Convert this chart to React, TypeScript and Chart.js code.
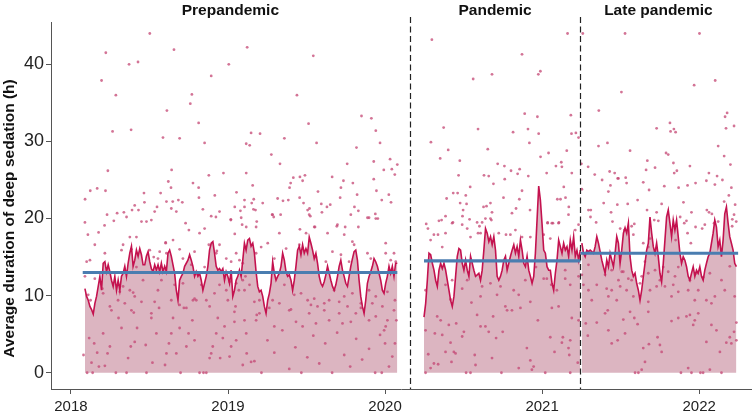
import { useEffect, useRef } from "react";
import { Chart, registerables } from "chart.js";

Chart.register(...registerables);

const FONT = "'Liberation Sans', Arial, Helvetica, sans-serif";

// ---- axes / layout values ----
const axisStartYear = 2017.873;
const axisEndYear = 2022.33;
const yMin = -2.11;
const yMax = 45.49;
const xTickYears = [2018, 2019, 2020, 2021, 2022];
const yTickValues = [0, 10, 20, 30, 40];
const yTitle = "Average duration of deep sedation (h)";

// ---- periods ----
const periodNames = ["Prepandemic", "Pandemic", "Late pandemic"];
const periodBreaks = [2020.157, 2021.244];
const dataEndYear = 2022.237;

const prepandemicSpan = [2018.089, 2020.078];
const pandemicSpan = [2020.248, 2021.243];
const latePandemicSpan = [2021.253, 2022.237];

const periodMeans = [13.0, 14.5, 15.5];
const meanSpans = [
  [2018.075, 2020.078],
  [2020.248, 2021.244],
  [2021.244, 2022.248],
];

// ---- rolling averages (evenly spaced across each span) ----
const prepandemicRolling = [
  10.9, 9.9, 9.4, 8.6, 8.2, 7.6, 9.0, 9.9, 11.2, 12.5,
  10.7, 14.2, 14.4, 13.1, 14.0, 13.1, 12.0, 11.2, 12.5, 10.7,
  12.0, 10.7, 12.5, 12.9, 13.8, 12.5, 14.2, 15.5, 16.4, 13.8,
  14.6, 15.9, 15.1, 16.1, 15.3, 14.0, 14.0, 15.1, 15.7, 14.4,
  13.5, 13.1, 14.0, 13.3, 14.0, 13.1, 14.2, 13.1, 13.8, 13.1,
  15.5, 15.9, 15.1, 14.0, 12.9, 10.7, 9.4, 12.0, 12.5, 12.9,
  13.8, 14.2, 14.6, 15.3, 14.6, 13.8, 12.5, 13.1, 12.5, 12.9,
  12.0, 10.7, 11.6, 12.5, 13.8, 15.9, 16.8, 17.0, 15.5, 13.8,
  13.3, 13.5, 13.1, 13.5, 12.0, 13.1, 12.5, 11.6, 13.3, 9.9,
  10.7, 12.0, 12.5, 13.3, 12.5, 14.6, 16.8,
  15.9, 17.2, 17.4, 16.4, 16.8, 15.5, 13.1, 11.2, 10.5, 10.7,
  9.9, 8.6, 7.7, 9.4, 10.3, 11.6, 14.4, 12.9, 12.0, 12.5,
  12.9, 13.8, 15.5, 14.6, 13.1, 12.5, 12.7, 12.0, 10.7, 12.0,
  13.8, 15.9, 16.4, 15.3, 16.6, 15.5, 16.1, 15.5, 17.6, 16.8,
  15.9, 14.8, 15.5, 14.2, 12.5, 11.6, 11.2, 11.8, 12.7, 13.8,
  12.9, 12.0, 11.2, 10.7, 11.4, 12.5, 13.8, 14.6, 13.3, 12.5,
  11.6, 11.2, 12.5, 13.8, 14.8, 15.7, 15.9, 14.6, 12.0, 9.9,
  8.6, 7.7, 9.4, 11.6, 12.5, 13.1, 13.8, 14.8, 14.4, 13.8,
  12.9, 12.0, 10.7, 10.3, 11.6, 12.5, 13.8, 12.9, 13.8, 12.5,
  14.2, 14.2,
];

const pandemicRolling = [
  7.2, 9.0, 12.0, 15.5, 15.3, 14.2, 13.3, 12.0, 11.2, 13.3,
  14.2, 13.5, 14.2, 13.3, 12.0, 10.7, 9.4, 8.6, 9.9, 12.5,
  15.1, 16.1, 15.9, 14.2, 13.3, 14.6, 13.3, 12.5, 15.1, 14.2,
  13.3, 12.5, 12.7, 12.9, 12.0, 13.3, 15.9, 18.7, 18.1, 17.0,
  17.65, 16.6, 17.65, 15.9, 12.5, 12.0, 12.5, 13.3, 14.6, 15.1,
  13.3, 14.2, 15.1, 15.9, 16.6, 15.5, 16.35, 15.1, 17.2, 15.9,
  14.2, 13.75, 15.1, 13.3, 12.5, 11.6, 12.5, 15.5, 19.8, 24.2,
  22.4, 19.3, 15.9, 15.5, 13.75, 13.3, 13.3, 11.6, 10.7, 12.9,
  14.6, 17.2, 16.35, 15.5, 16.8, 15.9, 16.35, 15.1, 17.2, 15.9,
  17.65, 15.1, 15.9, 14.6, 15.9,
];

const latePandemicRolling = [
  16.8, 15.5, 15.05, 15.9, 15.7, 15.9, 15.7, 15.5, 16.35, 17.65,
  16.8, 15.7, 14.6, 13.75, 12.9, 14.6, 13.75, 15.5, 14.6, 13.75,
  15.5, 17.65, 16.8, 14.2, 15.9, 18.1, 18.8, 18.1, 19.4, 15.05,
  13.3, 12.5, 12.9, 11.6, 10.7, 9.4, 10.7, 12.5, 14.2, 15.9,
  16.8, 20.2, 18.1, 16.35, 15.5, 16.8, 15.05, 12.9, 11.8, 14.2,
  17.2, 20.2, 21.1, 19.4, 17.65, 19.8, 18.5, 19.8, 17.65, 15.5,
  14.2, 15.05, 14.6, 13.75, 12.5, 12.0, 12.9, 13.75, 12.5, 13.3,
  12.9, 13.75, 12.5, 12.0, 13.3, 14.2, 15.05, 15.5, 16.8, 18.1,
  19.8, 18.9, 16.35, 17.2, 15.05, 17.2, 20.6, 21.5, 19.4, 17.65,
  16.8, 15.9, 14.2, 13.75,
];

// ---- daily values [year, hours] ----
const prepandemicDaily = [
  [2018.502,44.0],[2018.222,41.5],[2018.427,40.3],[2018.370,40.0],[2018.195,37.9],[2018.286,36.0],[2018.265,31.3],[2018.383,31.5],[2018.656,41.9],[2019.122,42.2],
  [2019.005,40.0],[2018.893,38.5],[2018.770,36.1],[2018.760,34.9],[2018.813,32.4],[2018.611,34.0],[2018.586,30.5],[2018.692,30.4],[2018.851,29.8],[2019.116,29.7],
  [2019.147,31.1],[2018.235,26.2],[2018.641,26.3],[2019.116,25.9],[2018.878,25.6],[2018.971,25.9],[2018.620,24.8],[2018.090,22.5],[2018.123,23.6],[2018.167,23.9],
  [2018.220,23.6],[2018.465,23.3],[2018.571,23.3],[2018.637,24.0],[2018.777,24.6],[2018.813,24.0],[2019.054,23.4],[2018.709,22.1],[2018.916,23.0],[2018.089,19.5],
  [2018.108,17.9],[2018.176,18.2],[2018.214,19.1],[2018.230,20.5],[2018.273,19.7],[2018.294,20.7],[2018.337,20.8],[2018.354,20.2],[2018.389,21.1],[2018.406,21.7],
  [2018.430,21.1],[2018.449,19.6],[2018.468,22.1],[2018.481,19.6],[2018.512,19.8],[2018.548,21.5],[2018.533,20.9],[2018.608,22.2],[2018.639,21.3],[2018.648,22.2],
  [2018.684,22.4],[2018.671,20.9],[2018.730,19.4],[2018.751,18.5],[2018.815,22.7],[2018.840,21.2],[2018.893,20.3],[2018.923,20.2],[2018.946,20.9],[2019.018,19.8],
  [2019.043,18.0],[2019.079,21.0],[2019.105,22.4],[2019.162,21.2],[2018.375,17.6],[2018.417,17.6],[2018.603,16.9],
  [2018.080,2.3],[2018.103,0],[2018.138,0],[2018.116,4.5],[2018.148,3.8],[2018.167,2.6],[2018.178,0.8],[2018.131,1.3],[2018.205,5.1],[2018.216,0.9],
  [2018.233,2.5],[2018.248,3.4],[2018.286,0],[2018.303,7.1],[2018.322,5.8],[2018.354,0],[2018.364,1.9],[2018.381,3.4],[2018.406,4.0],[2018.400,7.8],
  [2018.421,5.8],[2018.449,9.2],[2018.481,0],[2018.476,3.6],[2018.519,1.3],[2018.512,7.1],[2018.544,5.1],[2018.561,8.4],[2018.599,1.0],[2018.608,2.5],
  [2018.624,3.8],[2018.639,5.1],[2018.650,7.1],[2018.671,2.5],[2018.698,0],[2018.692,5.8],[2018.719,8.4],[2018.735,3.4],[2018.749,5.1],[2018.773,6.8],
  [2018.787,4.2],[2018.798,9.4],[2018.819,0],[2018.844,0],[2018.862,0],[2018.883,1.9],[2018.893,2.5],[2018.903,3.4],[2018.925,5.1],[2018.935,7.1],
  [2018.950,1.9],[2018.967,4.5],[2018.978,6.0],[2019.010,2.1],[2019.020,3.4],[2019.041,6.6],[2019.052,4.2],[2019.094,1.0],[2019.119,2.5],[2019.116,5.1],
  [2019.147,1.4],[2019.183,7.5],
  [2018.125,9.4],[2018.205,10.3],[2018.311,10.5],[2018.332,11.2],[2018.396,10.4],[2018.385,16.0],[2018.527,15.0],[2018.608,15.5],[2018.650,17.2],[2018.819,18.1],
  [2018.851,18.7],[2018.878,16.6],[2018.929,15.8],[2019.010,11.8],[2019.069,10.7],[2019.111,12.5],[2019.179,18.9],[2018.787,9.6],
  [2018.089,12.5],[2018.110,10.1],[2018.152,12.2],[2018.200,10.9],[2018.248,8.6],[2018.258,8.1],[2018.300,9.4],[2018.343,9.0],[2018.375,10.7],[2018.385,8.1],
  [2018.406,9.9],[2018.459,12.0],[2018.512,7.7],[2018.533,9.2],[2018.554,10.7],[2018.576,12.0],[2018.639,9.4],[2018.660,11.4],[2018.692,8.8],[2018.713,11.6],
  [2018.735,8.4],[2018.777,9.4],[2018.830,11.4],[2018.862,9.4],[2018.883,8.6],[2018.914,10.3],[2018.946,11.4],[2018.989,10.7],[2018.999,9.4],[2019.041,7.9],
  [2019.052,11.6],[2019.094,12.0],[2018.100,14.4],[2018.121,14.6],[2018.152,16.6],[2018.216,15.5],[2018.322,15.9],[2018.332,16.6],[2018.417,13.7],[2018.502,15.9],
  [2018.554,14.8],[2018.565,15.7],[2018.603,16.8],[2018.692,16.0],[2018.713,14.8],[2018.766,14.0],[2018.787,15.7],[2018.851,13.7],[2018.925,15.5],[2018.946,16.6],
  [2018.989,14.8],[2019.020,14.4],[2019.052,15.5],[2019.073,14.6],
  [2019.543,41.1],[2019.439,36.0],[2019.513,32.3],[2019.850,33.3],[2019.913,33.0],[2019.941,31.4],[2019.968,29.8],[2019.564,29.8],[2019.204,31.0],[2019.359,30.4],
  [2019.138,29.5],[2019.818,29.2],[2019.276,28.3],[2019.331,27.1],[2019.759,27.1],[2019.928,27.4],[2020.032,27.7],[2020.078,27.0],[2019.992,26.3],[2020.043,26.4],
  [2020.062,25.7],[2019.157,24.3],[2019.416,25.3],[2019.458,25.4],[2019.490,25.6],[2019.399,24.6],[2019.392,24.0],[2019.475,24.9],[2019.663,25.4],[2019.735,24.9],
  [2019.795,24.6],[2019.719,24.0],[2019.573,23.5],[2019.928,25.1],[2019.945,23.6],[2019.822,23.1],[2020.024,23.1],[2019.043,21.5],[2019.105,21.5],[2019.151,22.0],
  [2019.164,22.5],[2019.175,21.1],[2019.221,22.0],[2019.316,22.6],[2019.350,22.3],[2019.384,22.4],[2019.456,22.7],[2019.481,22.0],[2019.507,21.1],[2019.519,21.3],
  [2019.594,21.9],[2019.630,21.5],[2019.651,21.8],[2019.714,22.7],[2019.805,21.5],[2019.830,21.0],[2019.979,22.4],[2020.038,22.1],[2019.018,19.9],[2019.084,20.1],
  [2019.090,19.2],[2019.183,19.6],[2019.281,20.5],[2019.291,20.2],[2019.335,20.5],[2019.524,20.3],[2019.598,20.8],[2019.782,20.5],[2019.888,20.1],[2019.898,20.1],
  [2019.938,20.6],[2019.954,20.0],[2019.458,18.6],[2019.554,18.9],[2019.693,19.0],[2019.746,18.9],[2019.830,18.9],
  [2019.105,10.7],[2019.137,11.4],[2019.168,9.2],[2019.200,9.4],[2019.263,8.4],[2019.284,9.4],[2019.359,11.4],[2019.390,8.1],[2019.422,10.1],[2019.465,10.3],
  [2019.507,9.4],[2019.528,8.8],[2019.549,9.6],[2019.570,8.6],[2019.613,8.1],[2019.644,9.4],[2019.676,10.7],[2019.708,9.2],[2019.740,9.9],[2019.761,8.6],
  [2019.792,10.3],[2019.814,7.7],[2019.846,9.0],[2019.898,10.7],[2019.919,9.0],[2019.941,9.9],[2019.983,8.6],[2020.015,10.5],[2020.057,8.1],[2019.094,14.2],
  [2019.179,15.5],[2019.211,16.3],[2019.253,16.8],[2019.295,14.8],[2019.370,16.1],[2019.454,16.6],[2019.497,18.1],[2019.560,15.0],[2019.623,14.4],[2019.665,15.7],
  [2019.719,15.3],[2019.771,14.4],[2019.803,16.6],[2019.888,15.5],[2019.909,14.8],[2020.004,15.5],[2020.036,14.6],[2020.068,14.4],[2019.116,18.9],[2019.284,20.5],
  [2019.327,18.1],[2019.517,20.5],[2019.549,18.9],[2019.634,18.1],[2019.697,19.2],[2019.740,17.9],[2019.792,17.0],[2019.941,20.0],[2020.004,16.8],[2020.057,15.5],
  [2019.048,8.6],[2019.105,6.8],[2019.179,6.8],[2019.200,7.7],[2019.295,6.0],[2019.327,9.0],[2019.401,8.2],[2019.433,6.6],[2019.475,6.0],[2019.517,7.7],
  [2019.560,6.4],[2019.613,9.0],[2019.644,6.8],[2019.708,7.7],[2019.729,6.4],[2019.782,6.6],[2019.846,8.4],[2019.898,6.8],[2019.941,7.3],[2020.004,6.0],
  [2020.063,9.4],
  [2019.168,1.5],[2019.213,0],[2019.251,4.2],[2019.295,2.6],[2019.346,5.5],[2019.390,0.5],[2019.429,3.3],[2019.467,0],[2019.505,2.0],[2019.543,4.8],
  [2019.581,1.2],[2019.619,3.8],[2019.663,0],[2019.695,5.2],[2019.740,2.3],[2019.778,0.8],[2019.816,4.4],[2019.854,1.7],[2019.898,3.1],[2019.937,0],
  [2019.968,4.9],[2019.994,5.5],[2020.000,3.8],[2020.046,2.1],[2020.025,0.8],[2019.979,0],[2020.015,6.8],[2020.063,3.8],[2020.072,6.8],
];

const pandemicDaily = [
  [2020.298,43.2],[2020.561,38.1],[2020.373,31.8],[2020.592,31.6],[2020.292,29.9],[2020.402,28.9],[2020.351,27.8],[2020.654,29.0],[2020.476,27.5],[2020.468,25.6],
  [2020.630,25.6],[2020.542,24.1],[2020.434,23.3],[2020.462,23.3],[2020.514,23.0],[2020.392,22.6],[2020.478,22.0],[2020.519,21.9],[2020.627,21.5],[2020.646,21.6],
  [2020.497,21.1],[2020.385,20.3],[2020.493,20.3],[2020.639,20.0],[2020.262,19.3],[2020.343,19.7],[2020.360,19.8],[2020.432,19.5],[2020.538,19.9],[2020.586,19.5],
  [2020.618,19.5],[2020.273,18.7],[2020.491,19.2],[2020.523,18.7],[2020.601,19.0],
  [2021.162,44.0],[2020.872,41.3],[2020.681,38.7],[2020.989,39.1],[2020.976,38.7],[2020.889,33.6],[2020.970,33.2],[2021.183,33.4],[2020.815,31.2],[2020.910,31.6],
  [2020.978,31.0],[2021.187,31.0],[2021.215,31.1],[2021.232,30.5],[2020.919,29.8],[2020.990,28.0],[2021.041,28.5],[2021.157,28.8],[2020.717,27.1],[2020.760,26.8],
  [2020.857,26.4],[2021.088,26.8],[2021.122,27.3],[2021.126,26.7],[2020.802,26.2],[2020.844,25.8],[2020.912,25.5],[2021.029,25.9],[2021.189,25.9],[2020.660,25.5],
  [2020.690,24.5],[2020.762,25.1],[2020.872,23.6],[2021.138,24.1],[2020.754,22.7],[2020.855,22.5],[2021.097,22.5],[2021.117,22.5],[2021.149,22.7],[2020.671,22.0],
  [2020.834,21.3],[2020.923,21.1],[2021.170,21.5],[2020.681,20.8],[2020.808,20.7],[2021.168,20.5],[2020.677,19.8],[2021.035,19.5],[2021.069,19.4],[2021.107,19.5],
  [2020.258,10.7],[2020.332,7.3],[2020.385,11.4],[2020.417,9.5],[2020.427,12.0],[2020.491,10.9],[2020.523,12.0],[2020.550,9.1],[2020.608,9.9],[2020.618,11.2],
  [2020.671,11.6],[2020.713,10.1],[2020.735,11.2],[2020.777,8.1],[2020.819,10.7],[2020.851,10.1],[2020.893,12.0],[2020.925,9.2],[2020.961,13.7],[2021.010,12.2],
  [2021.030,12.2],[2021.058,11.4],[2021.094,10.7],[2021.105,8.6],[2021.147,12.2],[2021.179,11.4],[2021.232,12.5],[2021.147,13.3],[2020.290,17.2],[2020.311,17.9],
  [2020.337,17.9],[2020.364,16.3],[2020.385,18.1],[2020.427,19.4],[2020.544,17.6],[2020.592,18.1],[2020.608,18.1],[2020.671,20.0],[2020.724,18.1],[2020.770,17.9],
  [2020.798,17.9],[2020.830,18.5],[2020.872,17.6],[2020.925,17.6],[2021.010,17.9],[2021.035,19.4],[2021.062,19.4],[2021.052,17.4],[2021.105,19.4],[2021.211,18.5],
  [2021.232,19.2],
  [2020.258,5.5],[2020.275,2.4],[2020.290,0.6],[2020.258,0],[2020.311,1.2],[2020.338,1.1],[2020.354,6.8],[2020.317,5.1],[2020.364,4.9],[2020.406,6.2],
  [2020.417,3.9],[2020.385,2.7],[2020.423,1.4],[2020.438,2.7],[2020.453,6.4],[2020.449,2.5],[2020.502,5.3],[2020.491,4.7],[2020.516,0],[2020.544,0],
  [2020.571,2.3],[2020.586,7.5],[2020.576,1.0],[2020.608,6.0],[2020.639,6.0],[2020.660,5.3],[2020.681,1.9],[2020.688,7.3],[2020.707,4.5],[2020.741,0],
  [2020.749,5.3],[2020.766,8.6],[2020.808,8.1],[2020.851,0.6],[2020.862,8.4],[2020.903,3.2],[2020.925,1.6],[2020.935,0.4],[2020.946,0.8],[2020.973,6.8],
  [2021.020,0],[2021.052,4.6],[2021.062,8.4],[2021.079,2.7],[2021.132,4.6],[2021.126,3.9],[2021.168,3.2],[2021.173,2.3],[2021.179,4.2],[2021.179,0],
  [2021.189,7.1],[2021.232,6.8],[2021.227,1.3],
];

const latePandemicDaily = [
  [2021.259,44.0],[2021.528,44.0],[2022.002,44.0],[2021.505,36.4],[2021.968,37.3],[2022.102,37.9],[2021.361,34.0],[2022.165,33.2],[2022.178,33.7],[2021.729,31.7],
  [2021.814,32.4],[2021.818,31.3],[2021.839,31.6],[2021.850,31.2],[2022.171,31.7],[2022.222,32.0],[2021.359,29.4],[2021.416,29.8],[2022.121,29.4],[2021.560,28.8],
  [2021.789,28.5],[2021.803,28.3],[2022.159,28.1],[2021.250,27.1],[2021.293,26.7],[2021.670,27.5],[2021.719,26.6],[2021.836,27.2],[2021.941,26.8],[2022.199,27.0],
  [2021.335,25.7],[2021.430,26.1],[2021.462,25.9],[2021.486,25.2],[2021.532,25.3],[2021.662,26.3],[2021.841,25.9],[2021.858,26.2],[2022.062,25.9],[2022.114,25.5],
  [2021.253,23.8],[2021.382,25.0],[2021.435,24.3],[2021.481,25.2],[2021.538,24.6],[2021.644,24.7],[2021.681,23.7],[2021.778,24.2],[2021.869,24.0],[2021.926,24.3],
  [2021.977,24.6],[2022.046,24.9],[2022.100,24.4],[2022.148,25.0],[2022.205,24.0],[2021.422,23.5],[2021.479,21.8],[2021.545,21.9],[2021.608,22.4],[2021.761,21.9],
  [2021.900,22.1],[2022.159,22.2],[2022.189,23.0],[2021.295,21.1],[2021.310,21.1],[2021.392,22.0],[2021.439,20.8],[2021.668,21.1],[2021.729,20.8],[2021.879,20.2],
  [2021.951,20.8],[2022.049,21.1],[2022.063,20.8],[2022.229,21.8],[2021.308,20.2],[2021.714,19.8],[2021.919,19.7],[2022.081,20.6],[2022.211,19.9],[2022.236,19.6],
  [2021.344,19.5],[2021.448,19.6],[2021.570,19.0],[2021.587,19.3],[2022.036,19.2],
  [2021.497,18.7],[2021.524,18.5],[2021.581,17.9],[2021.687,17.4],[2021.740,19.7],[2021.905,19.4],[2021.926,18.1],[2021.977,18.9],[2022.019,18.7],[2022.095,19.4],
  [2022.121,19.6],[2022.210,19.0],[2022.222,20.5],[2021.644,16.8],[2021.676,16.3],[2021.947,16.8],[2021.850,17.2],
  [2021.295,14.0],[2021.401,12.7],[2021.443,13.3],[2021.507,13.1],[2021.517,13.1],[2021.549,12.2],[2021.570,12.0],[2021.634,12.5],[2021.655,14.4],[2021.676,12.9],
  [2021.719,13.3],[2021.750,12.0],[2021.771,13.7],[2021.803,13.1],[2021.846,12.5],[2021.867,13.7],[2021.941,12.0],[2021.983,12.9],[2022.025,12.4],[2022.068,12.9],
  [2022.142,12.0],[2022.195,13.8],
  [2021.253,12.7],[2021.263,11.4],[2021.295,10.7],[2021.348,11.4],[2021.411,10.9],[2021.443,10.7],[2021.486,12.0],[2021.497,11.2],[2021.538,10.7],[2021.623,11.6],
  [2021.687,10.7],[2021.729,11.2],[2021.782,11.2],[2021.835,11.4],[2021.867,10.5],[2021.930,10.7],[2021.994,10.7],[2022.046,9.4],[2022.100,9.9],[2022.163,10.7],
  [2022.226,9.9],[2021.316,9.4],[2021.422,9.9],[2021.475,9.4],[2021.581,9.9],[2021.676,9.2],[2021.824,9.9],[2021.972,9.4],[2022.078,9.0],
  [2021.278,6.4],[2021.291,4.8],[2021.348,6.5],[2021.401,7.7],[2021.418,8.1],[2021.422,5.5],[2021.443,3.8],[2021.481,4.2],[2021.517,6.9],[2021.528,5.1],
  [2021.560,7.9],[2021.587,7.1],[2021.608,6.3],[2021.592,0],[2021.613,0],[2021.634,0.4],[2021.644,3.2],[2021.655,1.4],[2021.676,7.9],[2021.680,3.7],
  [2021.735,4.6],[2021.750,3.6],[2021.761,2.7],[2021.824,6.7],[2021.867,7.1],[2021.884,0],[2021.919,7.3],[2021.930,0.6],[2021.941,7.5],[2021.951,0],
  [2021.962,6.2],[2021.972,6.8],[2021.994,7.7],[2022.008,0],[2022.025,0],[2022.046,4.0],[2022.068,0.4],[2022.078,6.2],[2022.110,5.5],[2022.132,2.7],
  [2022.142,0],[2022.173,3.9],[2022.195,4.6],[2022.205,3.8],[2022.222,5.3],[2022.237,4.2],[2022.237,6.5],
];

// ---- colours ----
const lineColor = "#c4124f";
const fillColor = "#dcb5c1";
const dotColor = "rgba(196, 70, 115, 0.75)";
const meanColor = "#4a7db0";
const textColor = "#222";

function spread(span: number[], values: number[]) {
  const n = values.length;
  return values.map((v, i) => ({ x: span[0] + (i * (span[1] - span[0])) / (n - 1), y: v }));
}

const annotations = {
  id: "periodAnnotations",
  afterDatasetsDraw(chart: any) {
    const { ctx, chartArea, scales } = chart;
    const xs = scales.x;
    ctx.save();
    ctx.strokeStyle = "#222";
    ctx.lineWidth = 1.2;
    ctx.setLineDash([6, 3.5]);
    for (const b of periodBreaks) {
      const px = Math.round(xs.getPixelForValue(b)) + 0.5;
      ctx.beginPath();
      ctx.moveTo(px, chartArea.top - 5);
      ctx.lineTo(px, chartArea.bottom);
      ctx.stroke();
    }
    ctx.setLineDash([]);
    const bounds = [axisStartYear, ...periodBreaks, dataEndYear];
    ctx.font = `bold 15.5px ${FONT}`;
    ctx.fillStyle = "#111";
    ctx.textAlign = "center";
    ctx.textBaseline = "alphabetic";
    periodNames.forEach((name, i) => {
      const cx = (xs.getPixelForValue(bounds[i]) + xs.getPixelForValue(bounds[i + 1])) / 2;
      ctx.fillText(name, cx, chartArea.top - 7.5);
    });
    ctx.translate(10, (chartArea.top + chartArea.bottom) / 2 + 13);
    ctx.rotate(-Math.PI / 2);
    ctx.textBaseline = "middle";
    ctx.fillText(yTitle, 0, 0);
    ctx.restore();
  },
};

export default function App() {
  const canvasRef = useRef<HTMLCanvasElement | null>(null);

  useEffect(() => {
    if (!canvasRef.current) return;
    Chart.defaults.font.family = FONT;

    const rollingSets = [
      [prepandemicSpan, prepandemicRolling],
      [pandemicSpan, pandemicRolling],
      [latePandemicSpan, latePandemicRolling],
    ].map(([span, vals]: any) => ({
      type: "line" as const,
      data: spread(span, vals),
      borderColor: lineColor,
      borderWidth: 1.6,
      backgroundColor: fillColor,
      fill: "origin",
      pointRadius: 0,
      tension: 0,
      order: 2,
    }));

    const dots = {
      type: "scatter" as const,
      data: [...prepandemicDaily, ...pandemicDaily, ...latePandemicDaily].map(([x, y]) => ({ x, y })),
      pointRadius: 1.4,
      pointBorderWidth: 0,
      backgroundColor: dotColor,
      borderColor: dotColor,
      order: 3,
    };

    const means = periodMeans.map((m, i) => ({
      type: "line" as const,
      data: [
        { x: meanSpans[i][0], y: m },
        { x: meanSpans[i][1], y: m },
      ],
      borderColor: meanColor,
      borderWidth: 3.2,
      borderCapStyle: "butt",
      pointRadius: 0,
      fill: false,
      order: 1,
    }));

    const chart = new Chart(canvasRef.current, {
      type: "line",
      data: { datasets: [dots, ...rollingSets, ...means] as any },
      options: {
        animation: false,
        responsive: true,
        maintainAspectRatio: false,
        layout: { padding: { top: 22, right: 2, bottom: 0, left: 0 } },
        plugins: {
          legend: { display: false },
          tooltip: { enabled: false },
          filler: { propagate: false, drawTime: "beforeDatasetsDraw" },
        } as any,
        scales: {
          x: {
            type: "linear",
            min: axisStartYear,
            max: axisEndYear,
            afterBuildTicks: (s: any) => {
              s.ticks = xTickYears.map((v) => ({ value: v }));
            },
            afterFit: (s: any) => {
              s.height = 29;
            },
            ticks: {
              callback: (v: any) => String(v),
              font: { size: 15 },
              color: textColor,
              padding: 4,
              maxRotation: 0,
            },
            grid: { drawOnChartArea: false, drawTicks: true, tickLength: 5, color: "#555", tickColor: "#555" },
            border: { display: true, color: "#555", width: 1 },
          },
          y: {
            type: "linear",
            min: yMin,
            max: yMax,
            afterBuildTicks: (s: any) => {
              s.ticks = yTickValues.map((v) => ({ value: v }));
            },
            afterFit: (s: any) => {
              s.width = 51;
            },
            ticks: {
              callback: (v: any) => String(v),
              font: { size: 18 },
              color: textColor,
              padding: 2,
            },
            grid: { drawOnChartArea: false, drawTicks: true, tickLength: 5, color: "#555", tickColor: "#555" },
            border: { display: true, color: "#555", width: 1 },
          },
        },
      },
      plugins: [annotations],
    });
    return () => chart.destroy();
  }, []);

  return (
    <div style={{ position: "fixed", left: 0, top: 0, width: 755, height: 418, background: "#fff" }}>
      <canvas ref={canvasRef} />
    </div>
  );
}
